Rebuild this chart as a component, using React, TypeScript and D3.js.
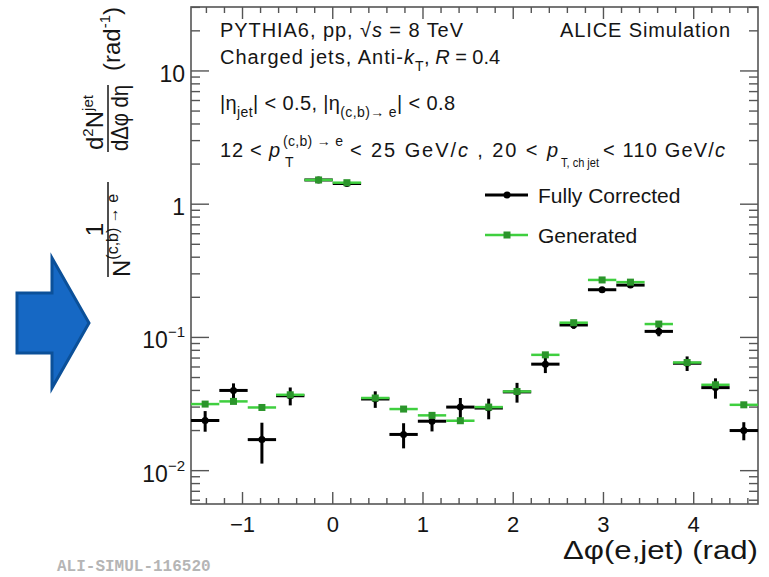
import React from "react";
import * as d3 from "d3";

// Δφ(e,jet) bin centres (rad) and half bin width
const binCenters = [
  -1.414, -1.1, -0.785, -0.471, -0.157, 0.157, 0.471, 0.785, 1.1, 1.414,
  1.728, 2.042, 2.356, 2.67, 2.985, 3.299, 3.613, 3.927, 4.241, 4.555,
];
const binHalfWidth = 0.157;

// Fully corrected distribution with statistical errors
const corrected = [
  0.0238, 0.04, 0.0171, 0.0365, 1.52, 1.43, 0.0345, 0.0187, 0.0235, 0.03,
  0.0295, 0.039, 0.063, 0.124, 0.228, 0.247, 0.111, 0.064, 0.042, 0.02,
];
const correctedErr = [
  0.0042, 0.0052, 0.0058, 0.0056, 0.03, 0.03, 0.0049, 0.004, 0.0038, 0.0051,
  0.0052, 0.0066, 0.009, 0.008, 0.008, 0.008, 0.009, 0.008, 0.0073, 0.0031,
];

// Generator-level distribution
const generated = [
  0.0316, 0.0331, 0.0298, 0.0371, 1.52, 1.45, 0.0351, 0.029, 0.026, 0.0237,
  0.03, 0.0393, 0.074, 0.129, 0.27, 0.26, 0.126, 0.0648, 0.0441, 0.0312,
];

const xTickValues = [-1, 0, 1, 2, 3, 4];
const xTickLabels = ["\u22121", "0", "1", "2", "3", "4"];
const xMinorStep = 0.2;
const yTickValues = [0.01, 0.1, 1, 10];
const yTickBase = ["10", "10", "1", "10"];
const yTickExp = ["\u22122", "\u22121", "", ""];

const FONT = "'Liberation Sans', Arial, Helvetica, sans-serif";
const GREEN_LINE = "#3fcf3f";
const GREEN_MARK = "#2b952b";
const FRAME = "#555";
const INK = "#151515";

export default function App() {
  const W = 769;
  const H = 577;
  const left = 191;
  const right = 758;
  const top = 7;
  const bottom = 504;

  const x = d3
    .scaleLinear()
    .domain([-Math.PI / 2, (3 * Math.PI) / 2])
    .range([left, right]);
  const y = d3.scaleLog().domain([0.00562, 30.2]).range([bottom, top]);

  // minor ticks
  const [x0, x1] = x.domain();
  const xMinor: number[] = [];
  for (let v = Math.ceil(x0 / xMinorStep) * xMinorStep; v <= x1; v += xMinorStep) {
    const r = Math.round(v * 10) / 10;
    if (Math.abs(r - Math.round(r)) > 1e-6) xMinor.push(r);
  }
  const yMinor: number[] = [];
  for (let e = -3; e <= 1; e++) {
    for (let m = 2; m <= 9; m++) {
      const v = m * Math.pow(10, e);
      if (v >= y.domain()[0] && v <= y.domain()[1]) yMinor.push(v);
    }
  }

  const majorY = 18;
  const minorY = 9;
  const majorX = 12;
  const minorX = 6;

  return (
    <svg
      width={W}
      height={H}
      style={{ position: "absolute", left: 0, top: 0, background: "#fff" }}
      fontFamily={FONT}
    >
      {/* arrow */}
      <polygon
        points="17,293 52,293 52,258 89,323 52,388 52,353 17,353"
        fill="#1668c4"
        stroke="#0b5099"
        strokeWidth={3}
      />

      {/* frame */}
      <rect
        x={left}
        y={top}
        width={right - left}
        height={bottom - top}
        fill="none"
        stroke={FRAME}
        strokeWidth={1.6}
      />

      {/* ticks */}
      <g stroke={FRAME} strokeWidth={1.4}>
        {xTickValues.map((v) => (
          <g key={"xm" + v}>
            <line x1={x(v)} x2={x(v)} y1={bottom} y2={bottom - majorX} />
            <line x1={x(v)} x2={x(v)} y1={top} y2={top + majorX} />
          </g>
        ))}
        {xMinor.map((v) => (
          <g key={"xn" + v}>
            <line x1={x(v)} x2={x(v)} y1={bottom} y2={bottom - minorX} />
            <line x1={x(v)} x2={x(v)} y1={top} y2={top + minorX} />
          </g>
        ))}
        {yTickValues.map((v) => (
          <g key={"ym" + v}>
            <line x1={left} x2={left + majorY} y1={y(v)} y2={y(v)} />
            <line x1={right} x2={right - majorY} y1={y(v)} y2={y(v)} />
          </g>
        ))}
        {yMinor.map((v) => (
          <g key={"yn" + v}>
            <line x1={left} x2={left + minorY} y1={y(v)} y2={y(v)} />
            <line x1={right} x2={right - minorY} y1={y(v)} y2={y(v)} />
          </g>
        ))}
      </g>

      {/* x tick labels */}
      {xTickValues.map((v, i) => (
        <text
          key={"xl" + v}
          x={x(v)}
          y={532}
          fontSize={22}
          textAnchor="middle"
          fill={INK}
        >
          {xTickLabels[i]}
        </text>
      ))}

      {/* y tick labels */}
      {yTickValues.map((v, i) => (
        <text
          key={"yl" + v}
          x={185}
          y={y(v) + 11}
          fontSize={23}
          textAnchor="end"
          fill={INK}
        >
          {yTickBase[i]}
          {yTickExp[i] && (
            <tspan dy={-11} fontSize={15}>
              {yTickExp[i]}
            </tspan>
          )}
        </text>
      ))}

      {/* x title */}
      <text
        x={758}
        y={559}
        fontSize={25}
        textAnchor="end"
        fill={INK}
        textLength={195}
        lengthAdjust="spacingAndGlyphs"
      >
        Δφ(e,jet) (rad)
      </text>

      {/* y title */}
      <g transform="translate(108,0) rotate(-90)" fill={INK}>
        <line x1={-277} x2={-182} y1={0} y2={0} stroke={INK} strokeWidth={1.5} />
        <text x={-229.5} y={-5} fontSize={24} textAnchor="middle">
          1
        </text>
        <text x={-277} y={22} fontSize={24}>
          N
          <tspan dy={-12} fontSize={16}>
            (c,b) → e
          </tspan>
        </text>
        <line x1={-152} x2={-85} y1={0} y2={0} stroke={INK} strokeWidth={1.5} />
        <text x={-150} y={-5} fontSize={24}>
          d
          <tspan dy={-10} fontSize={15}>
            2
          </tspan>
          <tspan dy={10} fontSize={24}>
            N
          </tspan>
          <tspan dy={-10} fontSize={15}>
            jet
          </tspan>
        </text>
        <text
          x={-151}
          y={20}
          fontSize={24}
          textLength={66}
          lengthAdjust="spacingAndGlyphs"
        >
          dΔφ dη
        </text>
        <text x={-71} y={12} fontSize={24}>
          (rad
          <tspan dy={-10} fontSize={15}>
            -1
          </tspan>
          <tspan dy={10} fontSize={24}>
            )
          </tspan>
        </text>
      </g>

      {/* annotations */}
      <g fill={INK} fontSize={20}>
        <text x={220} y={37} textLength={243} lengthAdjust="spacing">
          PYTHIA6, pp, √<tspan fontStyle="italic">s</tspan> = 8 TeV
        </text>
        <text x={730} y={37} textAnchor="end" textLength={170} lengthAdjust="spacing">
          ALICE Simulation
        </text>
        <text x={220} y={64} textLength={194} lengthAdjust="spacing">
          Charged jets, Anti-<tspan fontStyle="italic">k</tspan>
        </text>
        <text x={415} y={71} fontSize={14}>
          T
        </text>
        <text x={424} y={64}>
          , <tspan fontStyle="italic">R</tspan> = 0.4
        </text>
        <text x={220} y={110} textLength={235} lengthAdjust="spacing">
          |η
          <tspan dy={7} fontSize={14}>
            jet
          </tspan>
          <tspan dy={-7}>| &lt; 0.5, |η</tspan>
          <tspan dy={7} fontSize={14}>
            (c,b)→ e
          </tspan>
          <tspan dy={-7}>| &lt; 0.8</tspan>
        </text>
        <text x={220} y={157} textLength={60} lengthAdjust="spacing">
          12 &lt; <tspan fontStyle="italic">p</tspan>
        </text>
        <text x={285} y={167} fontSize={14}>
          T
        </text>
        <text x={283} y={146} fontSize={14} textLength={60} lengthAdjust="spacing">
          (c,b) → e
        </text>
        <text x={350} y={157} textLength={208} lengthAdjust="spacing">
          &lt; 25 GeV/<tspan fontStyle="italic">c</tspan> , 20 &lt;{" "}
          <tspan fontStyle="italic">p</tspan>
        </text>
        <text
          x={561}
          y={167}
          fontSize={13}
          textLength={38}
          lengthAdjust="spacingAndGlyphs"
        >
          T, ch jet
        </text>
        <text x={603} y={157} textLength={122} lengthAdjust="spacing">
          &lt; 110 GeV/<tspan fontStyle="italic">c</tspan>
        </text>
      </g>

      {/* legend */}
      <g>
        <line x1={485} x2={528} y1={195} y2={195} stroke="#000" strokeWidth={3} />
        <circle cx={507} cy={195} r={3.5} fill="#000" />
        <text x={538} y={203} fontSize={21} fill={INK}>
          Fully Corrected
        </text>
        <line x1={485} x2={528} y1={235} y2={235} stroke={GREEN_LINE} strokeWidth={2.5} />
        <rect x={503.5} y={231.5} width={7} height={7} fill={GREEN_MARK} />
        <text x={538} y={243} fontSize={21} fill={INK}>
          Generated
        </text>
      </g>

      {/* fully corrected points */}
      <g>
        {binCenters.map((c, i) => {
          const v = corrected[i];
          const e = correctedErr[i];
          return (
            <g key={"c" + i}>
              <line
                x1={x(c - binHalfWidth)}
                x2={x(c + binHalfWidth)}
                y1={y(v)}
                y2={y(v)}
                stroke="#000"
                strokeWidth={3}
              />
              <line
                x1={x(c)}
                x2={x(c)}
                y1={y(v + e)}
                y2={y(Math.max(v - e, 1e-4))}
                stroke="#000"
                strokeWidth={3}
              />
              <circle cx={x(c)} cy={y(v)} r={3.5} fill="#000" />
            </g>
          );
        })}
      </g>

      {/* generated points */}
      <g>
        {binCenters.map((c, i) => {
          const v = generated[i];
          return (
            <g key={"g" + i}>
              <line
                x1={x(c - binHalfWidth)}
                x2={x(c + binHalfWidth)}
                y1={y(v)}
                y2={y(v)}
                stroke={GREEN_LINE}
                strokeWidth={2.5}
              />
              <rect
                x={x(c) - 3.5}
                y={y(v) - 3.5}
                width={7}
                height={7}
                fill={GREEN_MARK}
              />
            </g>
          );
        })}
      </g>

      {/* record id */}
      <text
        x={57}
        y={571}
        fontSize={16}
        fontFamily="'Liberation Mono', 'DejaVu Sans Mono', monospace"
        fontWeight="bold"
        fill="#b5b5b5"
      >
        ALI-SIMUL-116520
      </text>
    </svg>
  );
}
